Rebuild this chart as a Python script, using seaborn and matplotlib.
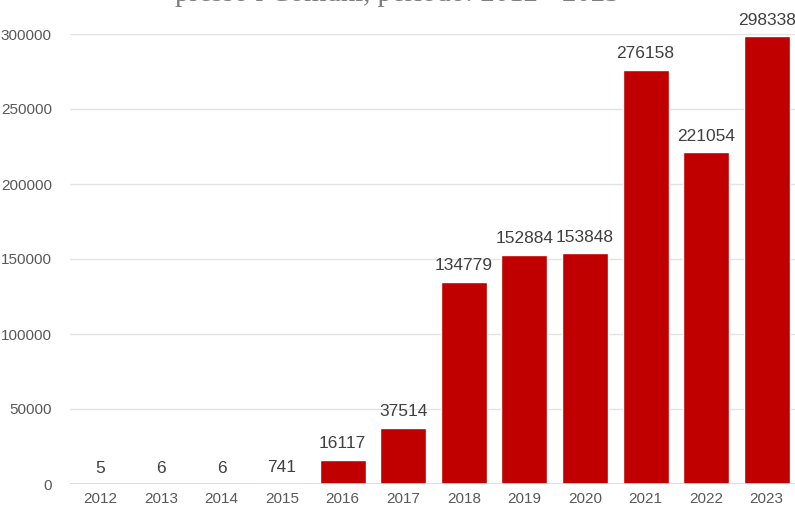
import matplotlib.pyplot as plt
import pandas as pd
import seaborn as sns

anni = ['2012', '2013', '2014', '2015', '2016', '2017', '2018', '2019', '2020', '2021', '2022', '2023']
valori = [5, 6, 6, 741, 16117, 37514, 134779, 152884, 153848, 276158, 221054, 298338]
yticks = [0, 50000, 100000, 150000, 200000, 250000, 300000]

df = pd.DataFrame({'anno': anni, 'valore': valori})

sns.set_style("white")
plt.rcParams['font.family'] = ['Liberation Sans', 'DejaVu Sans']

fig = plt.figure(figsize=(7.95, 5.07), dpi=100)
ax = fig.add_axes([70 / 795, 1 - 484 / 507, 727 / 795, 450 / 507])

sns.barplot(data=df, x='anno', y='valore', color='#C00000', width=0.76,
            saturation=1, ax=ax, zorder=3)

for i, v in enumerate(valori):
    ax.annotate(str(v), (i, v), xytext=(0, 6), textcoords='offset points',
                ha='center', va='bottom', fontsize=12.5, color='#404040')

ax.set_ylim(0, 300000)
ax.set_yticks(yticks)
ax.set_yticklabels([str(t) for t in yticks], fontsize=11, color='#595959')
ax.tick_params(axis='x', labelsize=11, labelcolor='#595959', length=0, pad=6)
ax.tick_params(axis='y', length=0, pad=13)
ax.grid(axis='y', color='#e3e3e3', linewidth=1, zorder=0)
ax.set_xlabel('')
ax.set_ylabel('')
sns.despine(ax=ax, left=True, right=True, top=True, bottom=True)
ax.axhline(0, color='#d9d9d9', linewidth=1.2, zorder=4)

fig.text(0.5, 1 - 1 / 507, 'presso i Comuni, periodo: 2012 - 2023', ha='center',
         va='baseline', fontsize=20.7, color='#7f7f7f', family=['Liberation Serif'])

fig.savefig('out.png', dpi=100)
